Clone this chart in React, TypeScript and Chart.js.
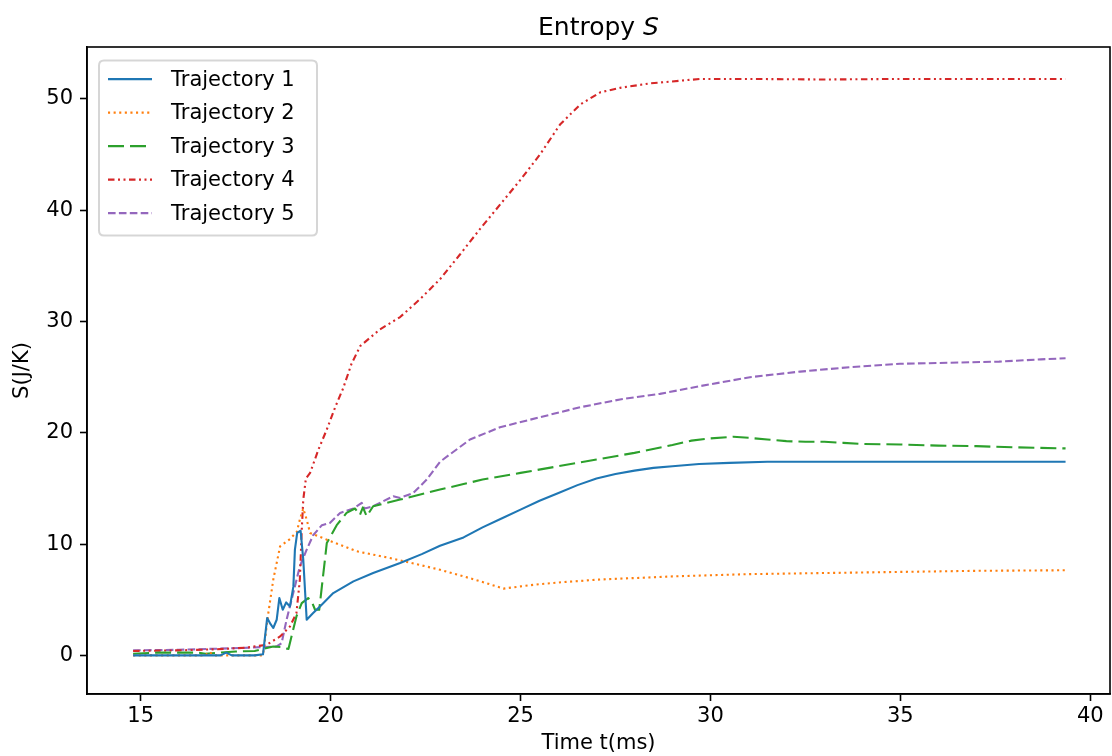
import React, { useEffect, useRef } from "react";
import { Chart, registerables } from "chart.js";

Chart.register(...registerables);

// ---------- data ----------
const seriesLabels = ["Trajectory 1", "Trajectory 2", "Trajectory 3", "Trajectory 4", "Trajectory 5"];
const xTickValues = [15, 20, 25, 30, 35, 40];
const yTickValues = [0, 10, 20, 30, 40, 50];

const traj1T = [14.8, 15.5, 16.5, 17.1, 17.25, 17.4, 18.0, 18.22, 18.33, 18.42, 18.49, 18.58, 18.65, 18.74, 18.83, 18.93, 19.02, 19.06, 19.12, 19.21, 19.28, 19.37, 19.54, 19.72, 20.07, 20.6, 21.12, 21.83, 22.4, 22.88, 23.5, 24.0, 24.5, 25.0, 25.5, 26.0, 26.5, 27.0, 27.5, 28.0, 28.5, 29.0, 29.7, 30.5, 31.5, 33.0, 35.0, 37.0, 39.35];
const traj1S = [0, 0, 0, 0, 0.25, 0, 0, 0.1, 3.36, 2.8, 2.46, 3.2, 5.15, 4.1, 4.76, 4.4, 6.2, 9.5, 11.0, 11.2, 8.6, 3.2, 3.8, 4.4, 5.6, 6.65, 7.4, 8.3, 9.1, 9.85, 10.6, 11.5, 12.3, 13.1, 13.9, 14.6, 15.3, 15.9, 16.3, 16.6, 16.85, 17.0, 17.2, 17.3, 17.4, 17.4, 17.4, 17.4, 17.4];

const traj2T = [14.8, 16.0, 16.7, 16.8, 16.95, 17.5, 18.2, 18.23, 18.36, 18.49, 18.67, 18.93, 19.11, 19.19, 19.28, 19.37, 19.46, 19.9, 20.69, 21.56, 22.88, 23.5, 24.0, 24.55, 25.0, 25.5, 26.0, 27.0, 28.0, 29.0, 30.0, 31.0, 32.0, 33.0, 34.0, 35.0, 36.0, 37.0, 38.0, 39.35];
const traj2S = [0, 0, 0, 0.3, 0, 0, 0, 0.3, 3.8, 6.8, 9.8, 10.45, 11.1, 12.2, 13.2, 12.2, 11.0, 10.4, 9.35, 8.75, 7.7, 7.1, 6.6, 6.0, 6.2, 6.4, 6.55, 6.8, 6.95, 7.1, 7.2, 7.3, 7.35, 7.4, 7.45, 7.5, 7.55, 7.6, 7.62, 7.65];

const traj3T = [14.8, 15.5, 16.5, 16.7, 17.5, 18.0, 18.49, 18.7, 18.89, 18.97, 19.1, 19.24, 19.41, 19.5, 19.59, 19.7, 19.77, 19.9, 20.16, 20.42, 20.64, 20.77, 20.85, 20.95, 21.12, 21.83, 22.88, 23.5, 24.0, 25.0, 26.0, 27.0, 28.0, 29.0, 29.5, 30.0, 30.6, 31.0, 31.5, 32.0, 32.5, 33.0, 33.5, 34.0, 35.0, 36.0, 37.0, 38.0, 39.35];
const traj3S = [0.15, 0.25, 0.25, 0.15, 0.35, 0.4, 0.8, 0.75, 0.57, 1.7, 3.5, 4.7, 5.15, 4.85, 4.1, 4.1, 6.2, 10.1, 11.7, 12.8, 13.2, 12.6, 13.3, 12.5, 13.4, 14.0, 14.9, 15.4, 15.8, 16.4, 17.0, 17.6, 18.2, 18.9, 19.3, 19.5, 19.65, 19.55, 19.4, 19.25, 19.2, 19.2, 19.1, 19.0, 18.95, 18.85, 18.8, 18.7, 18.6];

const traj4T = [14.8, 16.0, 17.0, 17.8, 18.32, 18.67, 18.93, 19.1, 19.19, 19.24, 19.28, 19.35, 19.46, 19.68, 19.9, 20.12, 20.33, 20.55, 20.78, 21.3, 21.83, 22.35, 22.88, 23.4, 23.93, 24.46, 24.99, 25.51, 26.04, 26.57, 27.1, 27.62, 28.41, 29.73, 31.0, 33.0, 35.0, 37.0, 39.35];
const traj4S = [0.4, 0.45, 0.55, 0.7, 0.96, 1.7, 2.6, 3.8, 6.8, 11.3, 14.0, 15.9, 16.4, 18.5, 20.3, 22.3, 24.0, 26.2, 27.8, 29.3, 30.4, 32.0, 33.8, 36.0, 38.3, 40.5, 42.7, 45.0, 47.7, 49.5, 50.6, 51.0, 51.4, 51.8, 51.8, 51.75, 51.8, 51.8, 51.8];

const traj5T = [14.8, 16.0, 17.0, 17.6, 18.58, 18.71, 18.84, 19.06, 19.19, 19.37, 19.54, 19.77, 19.98, 20.25, 20.6, 20.82, 20.9, 21.12, 21.65, 21.83, 22.18, 22.53, 22.88, 23.67, 24.46, 25.51, 26.57, 27.62, 28.67, 29.73, 31.04, 32.36, 33.67, 34.99, 36.3, 37.6, 38.7, 39.35];
const traj5S = [0.45, 0.5, 0.6, 0.66, 0.8, 1.1, 3.2, 6.2, 8.0, 9.5, 10.8, 11.7, 11.9, 12.8, 13.2, 13.7, 13.2, 13.4, 14.3, 14.15, 14.6, 15.8, 17.4, 19.4, 20.5, 21.4, 22.3, 23.0, 23.5, 24.2, 25.0, 25.5, 25.9, 26.2, 26.3, 26.4, 26.6, 26.7];

const seriesT = [traj1T, traj2T, traj3T, traj4T, traj5T];
const seriesS = [traj1S, traj2S, traj3S, traj4S, traj5S];
const seriesColors = ["#1f77b4", "#ff7f0e", "#2ca02c", "#d62728", "#9467bd"];
const seriesDash: number[][] = [[], [2.1, 3.5], [16, 6], [6.5, 3.5, 2, 3.5, 2, 3.5], [7.6, 3.3]];

const FONT = "'DejaVu Sans', 'Liberation Sans', sans-serif";
const FS = 21;

const framePlugin = {
  id: "mplFrame",
  afterDatasetsDraw(chart: any) {
    const ctx = chart.ctx as CanvasRenderingContext2D;
    const ca = chart.chartArea;
    ctx.save();
    ctx.strokeStyle = "#000";
    ctx.lineWidth = 1.6;
    ctx.setLineDash([]);
    ctx.strokeRect(ca.left, ca.top, ca.right - ca.left, ca.bottom - ca.top);

    // legend
    const bx = ca.left + 12, by = ca.top + 13.5, bw = 218, bh = 175, r = 5;
    ctx.beginPath();
    ctx.moveTo(bx + r, by);
    ctx.lineTo(bx + bw - r, by);
    ctx.quadraticCurveTo(bx + bw, by, bx + bw, by + r);
    ctx.lineTo(bx + bw, by + bh - r);
    ctx.quadraticCurveTo(bx + bw, by + bh, bx + bw - r, by + bh);
    ctx.lineTo(bx + r, by + bh);
    ctx.quadraticCurveTo(bx, by + bh, bx, by + bh - r);
    ctx.lineTo(bx, by + r);
    ctx.quadraticCurveTo(bx, by, bx + r, by);
    ctx.closePath();
    ctx.fillStyle = "rgba(255,255,255,0.8)";
    ctx.fill();
    ctx.strokeStyle = "rgba(204,204,204,0.8)";
    ctx.lineWidth = 2;
    ctx.stroke();

    ctx.font = `${FS}px ${FONT}`;
    ctx.textAlign = "left";
    ctx.textBaseline = "middle";
    const datasets = chart.data.datasets;
    for (let i = 0; i < datasets.length; i++) {
      const cy = by + 18.6 + i * 33.5;
      ctx.beginPath();
      ctx.strokeStyle = datasets[i].borderColor;
      ctx.lineWidth = 2.1;
      ctx.setLineDash(datasets[i].borderDash || []);
      ctx.moveTo(bx + 9, cy);
      ctx.lineTo(bx + 53, cy);
      ctx.stroke();
      ctx.setLineDash([]);
      ctx.fillStyle = "#000";
      ctx.fillText(datasets[i].label, bx + 72, cy + 1);
    }

    // title
    const titleMain = "Entropy ";
    const titleVar = "S";
    ctx.font = `25px ${FONT}`;
    const w1 = ctx.measureText(titleMain).width;
    ctx.font = `italic 25px ${FONT}`;
    const w2 = ctx.measureText(titleVar).width;
    const cx = (ca.left + ca.right) / 2;
    const tx = cx - (w1 + w2) / 2;
    ctx.textBaseline = "alphabetic";
    ctx.fillStyle = "#000";
    ctx.font = `25px ${FONT}`;
    ctx.fillText(titleMain, tx, 35);
    ctx.font = `italic 25px ${FONT}`;
    ctx.fillText(titleVar, tx + w1, 35);

    // axis labels
    ctx.font = `${FS}px ${FONT}`;
    ctx.textAlign = "center";
    ctx.fillText("Time t(ms)", cx, 749);
    ctx.save();
    ctx.translate(28, (ca.top + ca.bottom) / 2);
    ctx.rotate(-Math.PI / 2);
    ctx.fillText("S(J/K)", 0, 0);
    ctx.restore();
    ctx.restore();
  },
};

export default function App() {
  const ref = useRef<HTMLCanvasElement | null>(null);
  useEffect(() => {
    const canvas = ref.current;
    if (!canvas) return;
    const datasets = seriesLabels.map((label, i) => ({
      label,
      data: seriesT[i].map((t, j) => ({ x: t, y: seriesS[i][j] })),
      borderColor: seriesColors[i],
      backgroundColor: seriesColors[i],
      borderWidth: 2.1,
      borderDash: seriesDash[i],
      borderCapStyle: "butt" as const,
      borderJoinStyle: "round" as const,
      pointRadius: 0,
      fill: false,
      tension: 0,
    }));
    const tickFont = { family: FONT, size: FS };
    const chart = new Chart(canvas, {
      type: "line",
      data: { datasets },
      options: {
        animation: false,
        responsive: false,
        devicePixelRatio: 1,
        layout: { padding: { top: 47, right: 2, left: 0, bottom: 0 } },
        plugins: {
          legend: { display: false },
          title: { display: false },
          tooltip: { enabled: false },
        },
        scales: {
          x: {
            type: "linear",
            min: 13.586,
            max: 40.52,
            afterBuildTicks: (s: any) => {
              s.ticks = xTickValues.map((v) => ({ value: v }));
            },
            afterFit: (s: any) => {
              s.height = 62;
            },
            grid: {
              display: true,
              drawOnChartArea: false,
              drawTicks: true,
              tickLength: 7,
              tickColor: "#000",
              tickWidth: 1.6,
            },
            border: { display: true, color: "#000", width: 1.6 },
            ticks: {
              font: tickFont,
              color: "#000",
              padding: 3,
              maxRotation: 0,
              autoSkip: false,
              callback: (v: any) => String(v),
            },
          },
          y: {
            type: "linear",
            min: -3.47,
            max: 54.67,
            afterBuildTicks: (s: any) => {
              s.ticks = yTickValues.map((v) => ({ value: v }));
            },
            afterFit: (s: any) => {
              s.width = 87;
            },
            grid: {
              display: true,
              drawOnChartArea: false,
              drawTicks: true,
              tickLength: 7,
              tickColor: "#000",
              tickWidth: 1.6,
            },
            border: { display: true, color: "#000", width: 1.6 },
            ticks: {
              font: tickFont,
              color: "#000",
              padding: 7,
              autoSkip: false,
              callback: (v: any) => String(v),
            },
          },
        },
      },
      plugins: [framePlugin],
    });
    return () => chart.destroy();
  }, []);
  return (
    <div style={{ position: "absolute", left: 0, top: 0, width: 1112, height: 756, background: "#fff" }}>
      <canvas ref={ref} width={1112} height={756} style={{ display: "block", width: 1112, height: 756 }} />
    </div>
  );
}
